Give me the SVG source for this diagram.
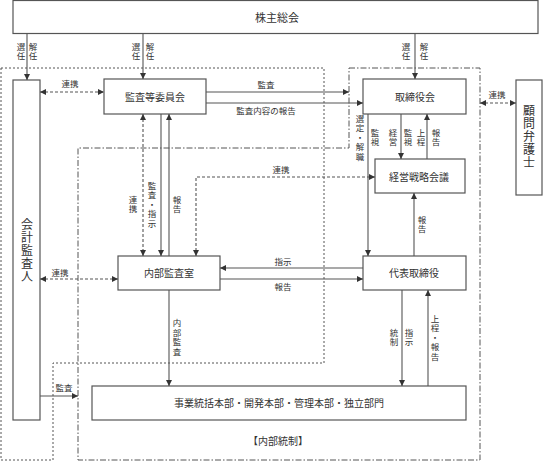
<svg xmlns="http://www.w3.org/2000/svg" width="543" height="461" viewBox="0 0 543 461">
<defs>
<style>
.box{fill:#fff;stroke:#555;stroke-width:1.2}
.t{font-family:"Noto Sans CJK JP","Noto Sans",sans-serif;fill:#333;text-anchor:middle}
.m{font-size:10px}
.b{font-size:11px}
.s{font-size:8.5px}
.v{writing-mode:vertical-rl;letter-spacing:1px}
.ln{stroke:#555;stroke-width:1.1;fill:none}
.dl{stroke:#555;stroke-width:1.1;fill:none;stroke-dasharray:3 2}
.zoneA{stroke:#555;stroke-width:1;fill:none;stroke-dasharray:2 2}
.zoneB{stroke:#555;stroke-width:1;fill:none;stroke-dasharray:6 2 1.5 2}
</style>
<marker id="ah" viewBox="0 0 6 6" refX="6" refY="3" markerWidth="6" markerHeight="6" markerUnits="userSpaceOnUse" orient="auto-start-reverse">
<path d="M0,0 L6,3 L0,6 z" fill="#333"/>
</marker>
</defs>
<rect width="543" height="461" fill="#fff"/>

<g id="zones">
<path class="zoneA" d="M1,68 H324 V363 H53 V460 H1 Z"/>
<path class="zoneB" d="M349,68 H480 V460 H78 V148 H349 Z"/>
</g>

<g id="n-shareholders"><rect class="box" x="13" y="0.5" width="525" height="33"/><text class="t b" x="277" y="21.5">株主総会</text></g>
<g id="n-auditor"><rect class="box" x="13" y="80" width="27" height="340"/><text class="t b v" x="27" y="251" style="font-size:12px">会計監査人</text></g>
<g id="n-committee"><rect class="box" x="104" y="79" width="102" height="35"/><text class="t m" x="155" y="100.5">監査等委員会</text></g>
<g id="n-board"><rect class="box" x="363" y="79" width="103" height="35"/><text class="t m" x="415" y="100.5">取締役会</text></g>
<g id="n-strategy"><rect class="box" x="375" y="159" width="90" height="34"/><text class="t m" x="419" y="180.5">経営戦略会議</text></g>
<g id="n-ceo"><rect class="box" x="363" y="256" width="103" height="34"/><text class="t m" x="414" y="277">代表取締役</text></g>
<g id="n-internal"><rect class="box" x="118" y="256" width="102" height="34"/><text class="t m" x="169" y="277">内部監査室</text></g>
<g id="n-divisions"><rect class="box" x="92" y="386" width="374" height="34"/><text class="t m" x="279" y="406.5">事業統括本部・開発本部・管理本部・独立部門</text></g>
<g id="n-lawyer"><rect class="box" x="516" y="80" width="26" height="115"/><text class="t b v" x="529" y="137" style="font-size:12px">顧問弁護士</text></g>
<g id="n-label"><text class="t m" x="278" y="445">【内部統制】</text></g>

<g id="connectors">
<line class="ln" x1="27" y1="33.5" x2="27" y2="80" marker-end="url(#ah)"/>
<line class="ln" x1="143" y1="33.5" x2="143" y2="79" marker-end="url(#ah)"/>
<line class="ln" x1="415" y1="33.5" x2="415" y2="79" marker-end="url(#ah)"/>

<line class="dl" x1="40" y1="92" x2="104" y2="92" marker-start="url(#ah)" marker-end="url(#ah)"/>
<line class="ln" x1="206" y1="92" x2="349" y2="92" marker-end="url(#ah)"/>
<line class="ln" x1="206" y1="103" x2="363" y2="103" marker-end="url(#ah)"/>
<line class="dl" x1="480" y1="103" x2="516" y2="103" marker-start="url(#ah)" marker-end="url(#ah)"/>

<line class="dl" x1="143" y1="114" x2="143" y2="256" marker-start="url(#ah)" marker-end="url(#ah)"/>
<line class="ln" x1="161" y1="114" x2="161" y2="256" marker-end="url(#ah)"/>
<line class="ln" x1="169" y1="256" x2="169" y2="114" marker-end="url(#ah)"/>

<polyline class="dl" points="196,256 196,177 375,177" marker-start="url(#ah)" marker-end="url(#ah)"/>

<line class="dl" x1="40" y1="279" x2="118" y2="279" marker-start="url(#ah)" marker-end="url(#ah)"/>
<line class="ln" x1="363" y1="268" x2="220" y2="268" marker-end="url(#ah)"/>
<line class="ln" x1="220" y1="279" x2="363" y2="279" marker-end="url(#ah)"/>

<line class="ln" x1="368" y1="114" x2="368" y2="256" marker-end="url(#ah)"/>
<line class="ln" x1="401" y1="114" x2="401" y2="159" marker-end="url(#ah)"/>
<line class="ln" x1="427" y1="159" x2="427" y2="114" marker-end="url(#ah)"/>
<line class="ln" x1="414" y1="256" x2="414" y2="193" marker-end="url(#ah)"/>

<line class="ln" x1="169" y1="290" x2="169" y2="386" marker-end="url(#ah)"/>
<line class="ln" x1="40" y1="396" x2="78" y2="396" marker-end="url(#ah)"/>
<line class="ln" x1="402" y1="290" x2="402" y2="386" marker-end="url(#ah)"/>
<line class="ln" x1="428" y1="386" x2="428" y2="290" marker-end="url(#ah)"/>
</g>

<g id="labels">
<text class="t s v" x="21" y="52">選任</text>
<text class="t s v" x="33" y="52">解任</text>
<text class="t s v" x="136" y="52">選任</text>
<text class="t s v" x="150" y="52">解任</text>
<text class="t s v" x="406" y="52">選任</text>
<text class="t s v" x="424" y="52">解任</text>

<text class="t s" x="70" y="87">連携</text>
<text class="t s" x="266" y="88">監査</text>
<text class="t s" x="266" y="114">監査内容の報告</text>
<text class="t s" x="497" y="98">連携</text>

<text class="t s v" x="133" y="205">連携</text>
<text class="t s v" x="152" y="205">監査・指示</text>
<text class="t s v" x="177" y="205">報告</text>

<text class="t s" x="281" y="173">連携</text>

<text class="t s v" x="360" y="138">選定・解職</text>
<text class="t s v" x="375" y="138">監視</text>
<text class="t s v" x="393" y="138">経営</text>
<text class="t s v" x="408" y="138">監視</text>
<text class="t s v" x="421" y="138">上程</text>
<text class="t s v" x="436" y="138">報告</text>
<text class="t s v" x="422" y="225">報告</text>

<text class="t s" x="60" y="276">連携</text>
<text class="t s" x="283" y="265">指示</text>
<text class="t s" x="283" y="290">報告</text>

<text class="t s v" x="177" y="338">内部監査</text>
<text class="t s" x="64" y="391">監査</text>
<text class="t s v" x="394" y="338">統制</text>
<text class="t s v" x="409" y="338">指示</text>
<text class="t s v" x="435" y="338">上程・報告</text>
</g>
</svg>
